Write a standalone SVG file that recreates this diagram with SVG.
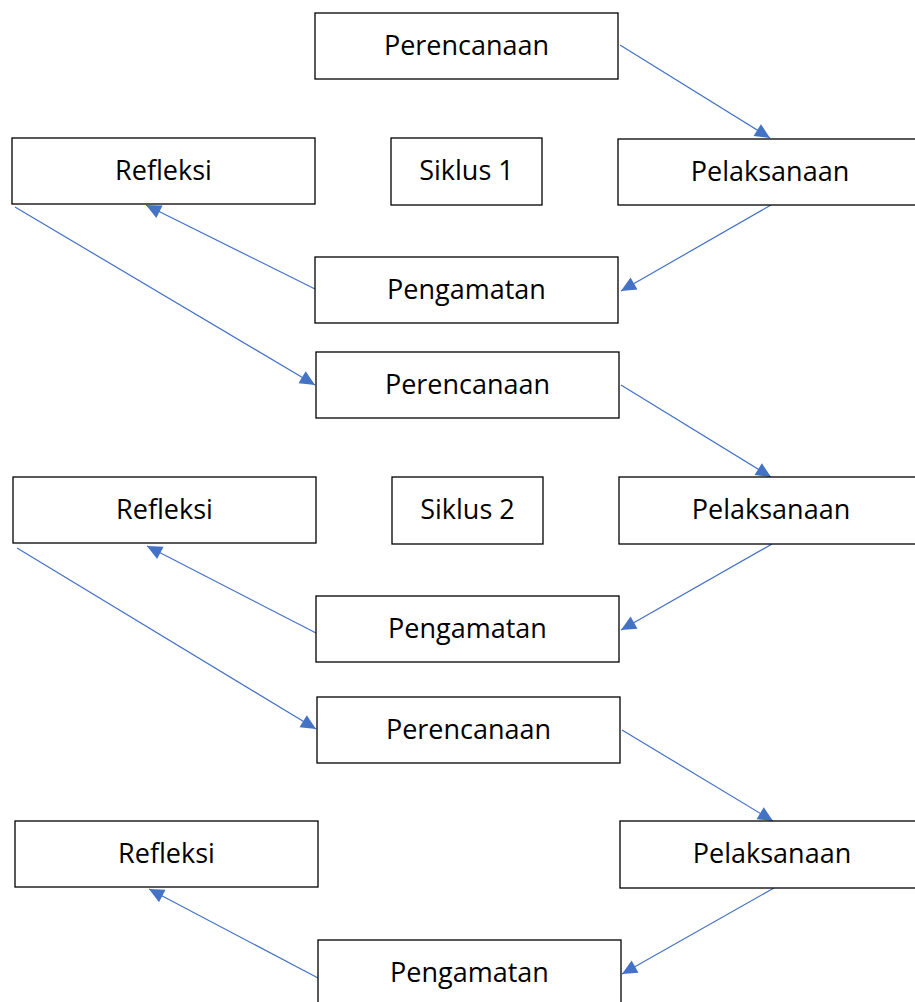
<svg xmlns="http://www.w3.org/2000/svg" width="915" height="1002" viewBox="0 0 915 1002">
<style>
.box{fill:#fff;stroke:#000;stroke-width:1.3}
.lbl{font-family:"Open Sans","Noto Sans",sans-serif;font-size:27px;fill:#000;text-anchor:middle}
.con{stroke:#4472C4;stroke-width:1.2;fill:none;marker-end:url(#ah)}
</style>
<defs>
<marker id="ah" markerUnits="userSpaceOnUse" markerWidth="18" markerHeight="18" viewBox="0 0 18 18" refX="16" refY="9" orient="auto">
<path d="M1,2 L16,9 L1,16 Z" fill="#4472C4"/>
</marker>
</defs>
<rect width="915" height="1002" fill="#fff"/>
<g id="connectors">
<line class="con" x1="620" y1="45" x2="770" y2="138"/>
<line class="con" x1="771" y1="205" x2="621" y2="291"/>
<line class="con" x1="315" y1="289" x2="146" y2="205"/>
<line class="con" x1="15" y1="207" x2="315" y2="385"/>
<line class="con" x1="621" y1="385" x2="771" y2="477"/>
<line class="con" x1="772" y1="544" x2="621" y2="630"/>
<line class="con" x1="316" y1="633" x2="147" y2="546"/>
<line class="con" x1="17" y1="548" x2="316" y2="729"/>
<line class="con" x1="622" y1="730" x2="773" y2="821"/>
<line class="con" x1="774" y1="888" x2="622" y2="974"/>
<line class="con" x1="318" y1="978" x2="149" y2="889"/>
</g>
<g id="perencanaan1"><rect class="box" x="315" y="13" width="303" height="66"/><text class="lbl" x="466.5" y="55">Perencanaan</text></g>
<g id="refleksi1"><rect class="box" x="12" y="138" width="303" height="66"/><text class="lbl" x="163.5" y="180">Refleksi</text></g>
<g id="siklus1"><rect class="box" x="391" y="138" width="151" height="67"/><text class="lbl" x="466.5" y="180">Siklus 1</text></g>
<g id="pelaksanaan1"><rect class="box" x="618" y="139" width="300" height="66"/><text class="lbl" x="770" y="181">Pelaksanaan</text></g>
<g id="pengamatan1"><rect class="box" x="315" y="257" width="303" height="66"/><text class="lbl" x="466.5" y="299">Pengamatan</text></g>
<g id="perencanaan2"><rect class="box" x="316" y="352" width="303" height="66"/><text class="lbl" x="467.5" y="394">Perencanaan</text></g>
<g id="refleksi2"><rect class="box" x="13" y="477" width="303" height="66"/><text class="lbl" x="164.5" y="519">Refleksi</text></g>
<g id="siklus2"><rect class="box" x="392" y="477" width="151" height="67"/><text class="lbl" x="467.5" y="519">Siklus 2</text></g>
<g id="pelaksanaan2"><rect class="box" x="619" y="477" width="300" height="67"/><text class="lbl" x="771" y="519">Pelaksanaan</text></g>
<g id="pengamatan2"><rect class="box" x="316" y="596" width="303" height="66"/><text class="lbl" x="467.5" y="638">Pengamatan</text></g>
<g id="perencanaan3"><rect class="box" x="317" y="697" width="303" height="66"/><text class="lbl" x="468.5" y="739">Perencanaan</text></g>
<g id="refleksi3"><rect class="box" x="15" y="821" width="303" height="66"/><text class="lbl" x="166.5" y="863">Refleksi</text></g>
<g id="pelaksanaan3"><rect class="box" x="620" y="821" width="300" height="67"/><text class="lbl" x="772" y="863">Pelaksanaan</text></g>
<g id="pengamatan3"><rect class="box" x="318" y="940" width="303" height="70"/><text class="lbl" x="469.5" y="982">Pengamatan</text></g>
</svg>
